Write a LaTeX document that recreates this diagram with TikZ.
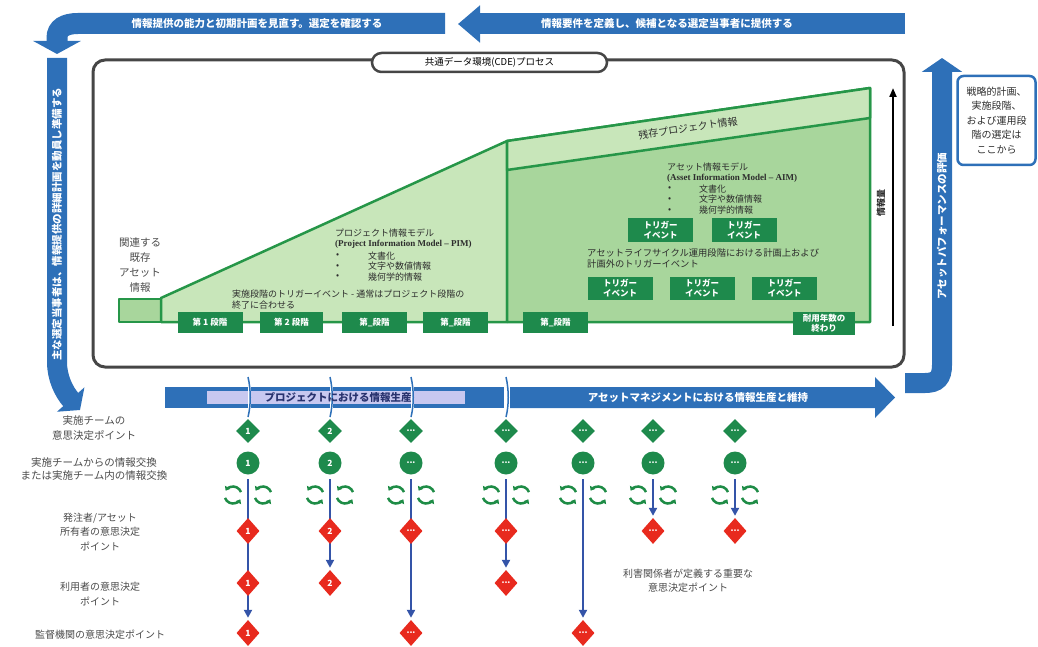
\documentclass[tikz,border=0pt]{standalone}
\usepackage{fontspec}
\newfontfamily\jp{Noto Sans CJK JP}
\newfontfamily\lserif{Liberation Serif}
\usetikzlibrary{arrows.meta,shapes.geometric,backgrounds}
\definecolor{bblue}{RGB}{46,112,184}
\definecolor{navy}{RGB}{52,84,168}
\definecolor{dgreen}{RGB}{30,138,76}
\definecolor{gline}{RGB}{38,150,72}
\definecolor{lgreen}{RGB}{200,230,186}
\definecolor{mgreen}{RGB}{168,214,156}
\definecolor{rred}{RGB}{232,42,30}
\definecolor{lav}{RGB}{200,200,240}
\definecolor{labgray}{RGB}{75,75,75}
\definecolor{txtdark}{RGB}{45,45,45}
\definecolor{cdegray}{RGB}{70,70,70}
\definecolor{cycg}{RGB}{30,140,70}
\definecolor{navytext}{RGB}{40,50,110}
\newcommand\fsz[2]{\fontsize{#1}{#2}\selectfont}
\newcommand\ddd{...}
\tikzset{
 bandtxt/.style={text=white, font=\jp\bfseries\fsz{10.5}{12}, inner sep=0pt},
 lbl/.style={text=labgray, font=\jp\fsz{10.5}{15}, align=center, inner sep=0pt},
 lbls/.style={text=labgray, font=\jp\fsz{10}{14.5}, align=center, inner sep=0pt},
 body/.style={text=txtdark, font=\jp\fsz{9}{11}, inner sep=0pt, anchor=west},
 latin/.style={text=txtdark, font=\lserif\bfseries\fsz{9}{11}, inner sep=0pt, anchor=west},
 stagebox/.style={fill=dgreen, text=white, font=\jp\bfseries\fsz{8.5}{10}, align=center, inner sep=0pt, minimum width=65pt, minimum height=21pt},
 trig/.style={stagebox, minimum height=24pt},
 gdia/.style={diamond, fill=dgreen, minimum width=24pt, minimum height=24pt, inner sep=0pt, text=white, font=\jp\bfseries\fsz{8.5}{9}},
 gcirc/.style={circle, fill=dgreen, minimum size=23pt, inner sep=0pt, text=white, font=\jp\bfseries\fsz{8.5}{9}},
 rdia/.style={diamond, fill=rred, minimum width=23pt, minimum height=26pt, inner sep=0pt, text=white, font=\jp\bfseries\fsz{8.5}{9}},
 vline/.style={draw=navy, line width=2.3pt, -{Triangle[length=8pt,width=8pt]}, shorten >=2pt},
 gedge/.style={draw=gline, line width=2.5pt, line join=round},
 bigarrow/.style={draw=bblue, line width=#1},
 cyc/.pic={
  \draw[cycg, line width=2.5pt, -{Triangle[length=4pt,width=6pt]}] (200:8.5pt) arc[start angle=200, end angle=330, radius=8.5pt];
  \draw[cycg, line width=2.5pt, -{Triangle[length=4pt,width=6pt]}] (20:8.5pt) arc[start angle=20, end angle=150, radius=8.5pt];
 }
}
\begin{document}
\begin{tikzpicture}[x=1pt,y=-1pt]
\useasboundingbox (0,0) rectangle (1038,647);

% ---------- big blue arrows ----------
\draw[bigarrow=21pt, -{Triangle[length=13pt,width=47pt]}] (445,23.5) -- (78,23.5) .. controls (65,23.5) and (57,28) .. (57,38) -- (57,54);
\node[bandtxt] (tl) at (257,23.5) {情報提供の能力と初期計画を見直す。選定を確認する};

\draw[bigarrow=21pt, -{Triangle[length=22pt,width=36pt]}] (905,24) -- (458,24);
\node[bandtxt] (tr) at (667,24) {情報要件を定義し、候補となる選定当事者に提供する};

\draw[bigarrow=20pt, -{Triangle[length=14pt,width=36pt]}] (57,58) -- (57,362) .. controls (57,378) and (64,392) .. (80,410);
\node[bandtxt, rotate=90] (lv) at (57,224) {主な選定当事者は、情報提供の詳細計画を動員し準備する};

\draw[bigarrow=20pt, -{Triangle[length=14pt,width=40pt]}] (905,383) -- (925,383) .. controls (937,383) and (942,378) .. (942,365) -- (942,58);
\node[bandtxt, rotate=90] (rv) at (942,226) {アセットパフォーマンスの評価};

\node[draw=bblue, line width=2.5pt, rounded corners=6pt, minimum width=78pt, minimum height=89pt, inner sep=0pt,
      text=txtdark, font=\jp\fsz{10}{14.5}, align=center] (sel) at (996.5,120.5) {戦略的計画、\\実施段階、\\および運用段\\階の選定は\\ここから};

% ---------- CDE box ----------
\draw[cdegray, line width=3pt, rounded corners=12pt] (93,60) rectangle (904,367);
\node[draw=cdegray, line width=2.5pt, fill=white, rounded corners=9.5pt, minimum width=235pt, minimum height=19pt, inner sep=0pt,
      text=black, font=\jp\fsz{9.5}{11}] (cde) at (489.5,62.5) {共通データ環境(CDE)プロセス};

% green areas
\filldraw[gedge, fill=mgreen] (119,299) rectangle (161,322);
\filldraw[gedge, fill=lgreen] (161,322) -- (161,298) -- (507,141) -- (507,322) -- cycle;
\filldraw[gedge, fill=mgreen] (507,322) -- (507,141) -- (870,88) -- (870,322) -- cycle;
\filldraw[gedge, fill=lgreen] (507,141) -- (870,88) -- (870,118) -- (507,170) -- cycle;

\node[lbl] (rel) at (140,265) {関連する\\既存\\アセット\\情報};
\node[text=txtdark, font=\jp\fsz{10}{12}, rotate=8.3, inner sep=0pt] (rem) at (688,128) {残存プロジェクト情報};

% PIM text
\node[body] (pim1) at (335,233) {プロジェクト情報モデル};
\node[latin] (pim2) at (335,244) {(Project Information Model – PIM)};
\node[body] (pb1) at (336,256) {•}; \node[body] (pi1) at (368,256) {文書化};
\node[body] (pb2) at (336,266.5) {•}; \node[body] (pi2) at (368,266.5) {文字や数値情報};
\node[body] (pb3) at (336,277) {•}; \node[body] (pi3) at (368,277) {幾何学的情報};
\node[body] (trg1) at (232,294.5) {実施段階のトリガーイベント - 通常はプロジェクト段階の};
\node[body] (trg2) at (232,305) {終了に合わせる};

% AIM text
\node[body] (aim1) at (667,167) {アセット情報モデル};
\node[latin] (aim2) at (667,178.5) {(Asset Information Model – AIM)};
\node[body] (ab1) at (668,189) {•}; \node[body] (ai1) at (699,189) {文書化};
\node[body] (ab2) at (668,199.5) {•}; \node[body] (ai2) at (699,199.5) {文字や数値情報};
\node[body] (ab3) at (668,210.5) {•}; \node[body] (ai3) at (699,210.5) {幾何学的情報};
\node[body, font=\jp\fsz{9.3}{11}] (lc1) at (587,252.5) {アセットライフサイクル運用段階における計画上および};
\node[body, font=\jp\fsz{9.3}{11}] (lc2) at (587,263.5) {計画外のトリガーイベント};

% stage boxes
\node[stagebox] (s1) at (210,322.5) {第 1 段階};
\node[stagebox, minimum width=63pt] (s2) at (291.5,322.5) {第 2 段階};
\node[stagebox] (s3) at (374.5,322.5) {第\_段階};
\node[stagebox] (s4) at (455.5,322.5) {第\_段階};
\node[stagebox] (s5) at (555.5,322.5) {第\_段階};
\node[stagebox, minimum width=62pt, minimum height=23pt, font=\jp\bfseries\fsz{8.5}{10.5}] (s6) at (824,323.5) {耐用年数の\\終わり};

% trigger boxes
\node[trig] (te1) at (660.5,230) {トリガー\\イベント};
\node[trig] (te2) at (744,230) {トリガー\\イベント};
\node[trig, minimum height=23pt] (te3) at (620,288.5) {トリガー\\イベント};
\node[trig, minimum height=23pt] (te4) at (702,288.5) {トリガー\\イベント};
\node[trig, minimum height=23pt] (te5) at (784.5,288.5) {トリガー\\イベント};

% volume arrow
\coordinate (vb) at (893,326);
\coordinate (vt) at (893,88);
\draw[black, line width=2pt, -{Triangle[length=9pt,width=7pt]}] (vb) -- (vt);
\node[text=txtdark, font=\jp\bfseries\fsz{9}{11}, rotate=90, inner sep=0pt] (vol) at (881,203) {情報量};

% ---------- bottom bands ----------
\fill[bblue] (165,387) rectangle (504,408);
\fill[lav] (207,391) rectangle (465,404);
\fill[bblue] (510,387) -- (875,387) -- (875,377) -- (895,397.5) -- (875,418) -- (875,408) -- (510,408) -- cycle;
\foreach \xc in {248,330,411}{
  \draw[white, line width=3pt] (\xc+1.5,386) -- (\xc+1.5,409);
  \draw[bblue, line width=1.5pt] (\xc,377) .. controls (\xc+3,390) and (\xc+3,405) .. (\xc,417);
}
\draw[bblue, line width=1.5pt] (506,377) .. controls (509,390) and (509,405) .. (506,417);
\node[text=navytext, font=\jp\bfseries\fsz{10.5}{12}, inner sep=0pt] (pband) at (338,397.5) {プロジェクトにおける情報生産};
\node[bandtxt] (aband) at (698,397.5) {アセットマネジメントにおける情報生産と維持};

% ---------- left labels ----------
\node[lbl] (L1) at (94,428) {実施チームの\\意思決定ポイント};
\node[lbl, font=\jp\fsz{10.5}{13}] (L2) at (94,469) {実施チームからの情報交換\\または実施チーム内の情報交換};
\node[lbls] (L3) at (100,532) {発注者/アセット\\所有者の意思決定\\ポイント};
\node[lbls] (L4) at (100,594) {利用者の意思決定\\ポイント};
\node[lbls] (L5) at (100,635) {監督機関の意思決定ポイント};
\node[lbls] (L6) at (688,580.5) {利害関係者が定義する重要な\\意思決定ポイント};

% ---------- columns ----------
\foreach \x/\l [count=\i] in {248/1,330/2,411/\ddd,506/\ddd,583/\ddd,653/\ddd,735/\ddd}{
  \node[gdia] (gd\i) at (\x,431) {\l};
  \node[gcirc] (gc\i) at (\x,463) {\l};
  \coordinate (top\i) at (\x,479);
  \pic at (\x-15,495) {cyc};
  \pic at (\x+15,495) {cyc};
}

\node[rdia] (r1a) at (248,531) {1};
\node[rdia] (r1b) at (248,583) {1};
\node[rdia] (r1c) at (248,633) {1};
\node[rdia] (r2a) at (330,531) {2};
\node[rdia] (r2b) at (330,583) {2};
\node[rdia] (r3a) at (411,531) {\ddd};
\node[rdia] (r3c) at (411,633) {\ddd};
\node[rdia] (r4a) at (506,531) {\ddd};
\node[rdia] (r4b) at (506,583) {\ddd};
\node[rdia] (r5c) at (583,633) {\ddd};
\node[rdia] (r6a) at (653,531) {\ddd};
\node[rdia] (r7a) at (735,531) {\ddd};

\begin{pgfonlayer}{background}
  \draw[vline] (top1) -- (r1c.north);
  \draw[vline] (top2) -- (r2b.north);
  \draw[vline] (top3) -- (r3c.north);
  \draw[vline] (top4) -- (r4b.north);
  \draw[vline] (top5) -- (r5c.north);
  \draw[vline] (top6) -- (r6a.north);
  \draw[vline] (top7) -- (r7a.north);
\end{pgfonlayer}
\end{tikzpicture}
\end{document}
